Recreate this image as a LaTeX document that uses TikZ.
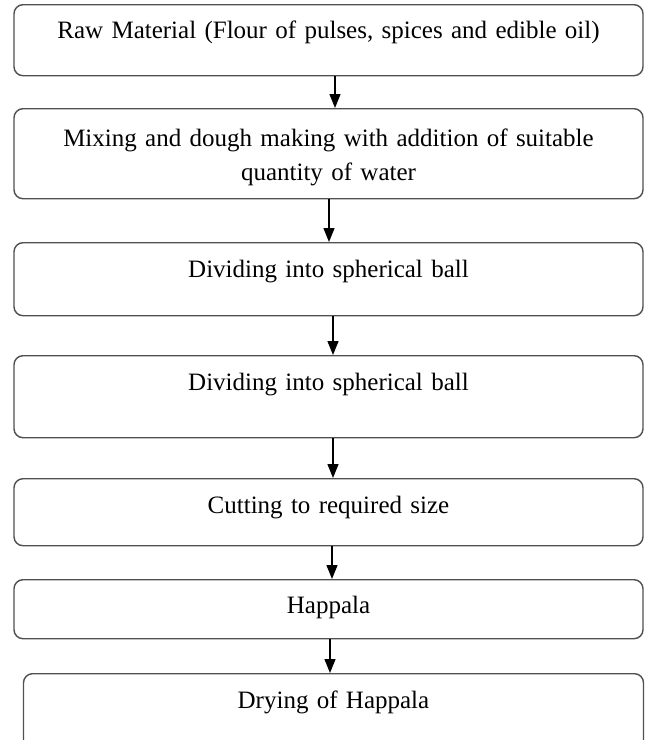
\documentclass[tikz,border=0pt]{standalone}
\usepackage{fontspec}
\setmainfont{Liberation Serif}
\usetikzlibrary{arrows.meta}
\definecolor{boxline}{RGB}{80,80,80}
\tikzset{
  stepbox/.style={draw=boxline, line width=1.4pt, rounded corners=9pt,
    minimum width=629pt, text width=620pt, inner xsep=0pt, inner ysep=0pt,
    align=center, anchor=north, font=\fontsize{25}{34}\selectfont},
  flow/.style={line width=1.3pt, -{Triangle[width=11pt,length=14pt]}}
}
\begin{document}
\begin{tikzpicture}[x=1pt,y=1pt]
\useasboundingbox (0,0) rectangle (650,-740);
\node[stepbox, text height=34pt, text depth=37pt] (raw) at (328.5,-4) {Raw Material (Flour of pulses, spices and edible oil)};
\node[stepbox, text height=38pt, text depth=52pt] (mix) at (328.5,-108) {Mixing and dough making with addition of suitable\\quantity of water};
\node[stepbox, text height=35pt, text depth=38pt] (ball) at (328.5,-242) {Dividing into spherical ball};
\node[stepbox, text height=35pt, text depth=47pt] (ballb) at (328.5,-355) {Dividing into spherical ball};
\node[stepbox, text height=35pt, text depth=32pt] (cut) at (328.5,-478) {Cutting to required size};
\node[stepbox, text height=34pt, text depth=25pt] (hap) at (328.5,-579) {Happala};
\node[stepbox, minimum width=619pt, text height=35pt, text depth=40pt] (dry) at (333.5,-673) {Drying of Happala};
\foreach \i/\j/\s in {raw/mix/6.5,mix/ball/0.5,ball/ballb/4.5,ballb/cut/4.5,cut/hap/3.5,hap/dry/1.5} {
  \draw[flow] ([xshift=\s pt]\i.south) -- ([xshift=\s pt]\i.south |- \j.north);
}
\end{tikzpicture}
\end{document}
